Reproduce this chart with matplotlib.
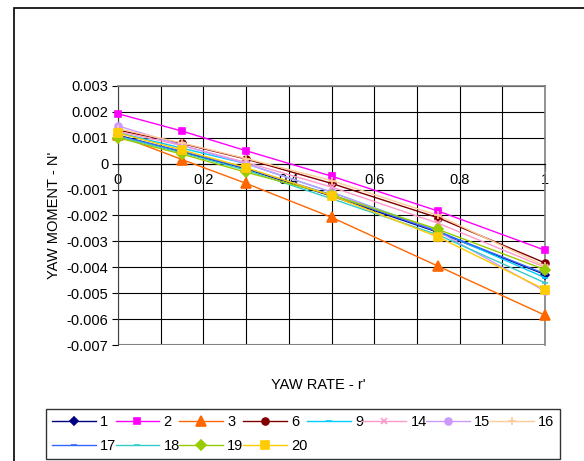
import matplotlib
matplotlib.use("Agg")
import matplotlib.pyplot as plt
from matplotlib.patches import Rectangle
from matplotlib.ticker import MultipleLocator, FixedLocator

plt.rcParams['font.family'] = ['Liberation Sans', 'DejaVu Sans']

# yaw rate r' and yaw moment N' for each run
yaw_rate = [0.0, 0.15, 0.3, 0.5, 0.75, 1.0]

run_1 = [0.00110, 0.00045, -0.00020, -0.00125, -0.00265, -0.00428]
run_2 = [0.00193, 0.00126, 0.00050, -0.00048, -0.00183, -0.00334]
run_3 = [0.00110, 0.00016, -0.00076, -0.00207, -0.00396, -0.00585]
run_6 = [0.00130, 0.00078, 0.00018, -0.00076, -0.00209, -0.00383]
run_9 = [0.00120, 0.00060, 0.00000, -0.00110, -0.00260, -0.00440]
run_14 = [0.00125, 0.00070, 0.00005, -0.00090, -0.00230, -0.00400]
run_15 = [0.00146, 0.00071, 0.00000, -0.00110, -0.00262, -0.00492]
run_16 = [0.00135, 0.00080, 0.00020, -0.00065, -0.00200, -0.00395]
run_17 = [0.00108, 0.00048, -0.00018, -0.00120, -0.00262, -0.00425]
run_18 = [0.00105, 0.00042, -0.00025, -0.00135, -0.00275, -0.00460]
run_19 = [0.00100, 0.00037, -0.00033, -0.00120, -0.00254, -0.00409]
run_20 = [0.00118, 0.00053, -0.00015, -0.00123, -0.00283, -0.00486]

run_labels = ["1", "2", "3", "6", "9", "14", "15", "16", "17", "18", "19", "20"]
run_values = [run_1, run_2, run_3, run_6, run_9, run_14, run_15, run_16,
              run_17, run_18, run_19, run_20]

x_ticks = [0, 0.2, 0.4, 0.6, 0.8, 1.0]
x_ticklabels = ["0", "0.2", "0.4", "0.6", "0.8", "1"]
y_ticks = [0.003, 0.002, 0.001, 0, -0.001, -0.002, -0.003, -0.004, -0.005, -0.006, -0.007]
y_ticklabels = ["0.003", "0.002", "0.001", "0", "-0.001", "-0.002", "-0.003",
                "-0.004", "-0.005", "-0.006", "-0.007"]

styles = {
    "1": dict(color="#000080", marker="D", ms=4.5),
    "2": dict(color="#FF00FF", marker="s", ms=5),
    "3": dict(color="#FF6600", marker="^", ms=6.5),
    "6": dict(color="#800000", marker="o", ms=5),
    "9": dict(color="#00CCFF", marker="_", ms=5),
    "14": dict(color="#FF99CC", marker="x", ms=4.5),
    "15": dict(color="#CC99FF", marker="o", ms=5),
    "16": dict(color="#FFCC99", marker="+", ms=6),
    "17": dict(color="#3366FF", marker="_", ms=5),
    "18": dict(color="#33CCCC", marker="_", ms=5),
    "19": dict(color="#99CC00", marker="D", ms=5),
    "20": dict(color="#FFCC00", marker="s", ms=6),
}

W, H = 584, 461
fig = plt.figure(figsize=(W / 100, H / 100), dpi=100)

# outer chart frame
fig.add_artist(Rectangle((14 / W, -0.05), 1.1, 1 - 8 / H + 0.05,
                         transform=fig.transFigure, fill=False,
                         edgecolor="black", lw=1.2))

left, right, top, bottom = 118, 545, 86, 345
ax = fig.add_axes([left / W, 1 - bottom / H, (right - left) / W, (bottom - top) / H])

lines = {}
for name, vals in zip(run_labels, run_values):
    st = styles[name]
    (ln,) = ax.plot(yaw_rate, vals, color=st["color"], lw=1.0,
                    marker=st["marker"], ms=st["ms"], mec=st["color"],
                    mew=1.2, label=name, clip_on=False, zorder=3)
    lines[name] = ln

ax.set_xlim(0, 1)
ax.set_ylim(-0.007, 0.003)

ax.xaxis.set_major_locator(FixedLocator(x_ticks))
ax.set_xticklabels(x_ticklabels)
ax.xaxis.set_minor_locator(MultipleLocator(0.1))
ax.set_yticks(y_ticks)
ax.set_yticklabels(y_ticklabels)

ax.grid(True, which="both", axis="x", color="black", lw=0.8)
ax.grid(True, which="major", axis="y", color="black", lw=0.8)

for s in ("top", "right"):
    ax.spines[s].set_color("#808080")
    ax.spines[s].set_linewidth(1.2)
ax.spines["left"].set_color("#404040")
ax.spines["bottom"].set_position(("data", 0))
ax.spines["bottom"].set_color("black")
ax.axhline(-0.007, color="#808080", lw=1.5, zorder=2)

ax.tick_params(axis="both", labelsize=10.5, colors="black", width=0.8)
ax.tick_params(axis="x", which="major", length=5, pad=2)
ax.tick_params(axis="x", which="minor", length=0)
ax.tick_params(axis="y", length=4, pad=3)

ax.set_ylabel("YAW MOMENT - N'", fontsize=10.5, labelpad=4)
ax.set_xlabel("YAW RATE - r'", fontsize=10.5)
ax.xaxis.set_label_coords((318 - left) / (right - left), -(378 - bottom) / (bottom - top))

order = ["1", "17", "2", "18", "3", "19", "6", "20", "9", "14", "15", "16"]
leg = fig.legend([lines[k] for k in order], order, ncol=8, loc="lower left",
                 bbox_to_anchor=(46 / W, 2 / H, (560 - 46) / W, (461 - 403 - 2) / H),
                 mode="expand", frameon=True, fancybox=False, fontsize=10.5,
                 handlelength=3.0, handletextpad=0.3, columnspacing=0.6,
                 borderaxespad=0, labelspacing=0.7, borderpad=0.4)
leg.get_frame().set_edgecolor("black")
leg.get_frame().set_linewidth(1.0)

fig.savefig("out.png", dpi=100)
